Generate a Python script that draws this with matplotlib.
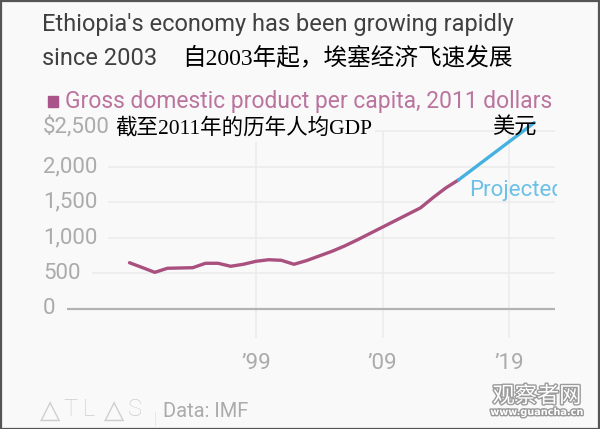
import matplotlib
matplotlib.use('Agg')
import matplotlib.pyplot as plt
from matplotlib.patches import Rectangle
from matplotlib import transforms
import matplotlib.patheffects as pe

# ---------------- data ----------------
years_hist = list(range(1989, 2016))
gdp_hist = [650, 583, 515, 572, 576, 580, 642, 642, 600, 628,
            670, 692, 684, 628, 680, 745, 810, 885, 970, 1060,
            1150, 1240, 1330, 1420, 1565, 1700, 1812]
years_proj = list(range(2015, 2022))
gdp_proj = [1812, 1946, 2080, 2214, 2348, 2482, 2617]

y_ticks = [0, 500, 1000, 1500, 2000, 2500]
y_tick_labels = ['0', '500', '1,000', '1,500', '2,000', '$2,500']
x_ticks = [1999, 2009, 2019]
x_tick_labels = ['\u201999', '\u201909', '\u201919']

title_en_1 = "Ethiopia's economy has been growing rapidly"
title_en_2 = "since 2003"
title_zh = "自2003年起，埃塞经济飞速发展"
legend_en = "Gross domestic product per capita, 2011 dollars"
legend_zh_1 = "截至2011年的历年人均GDP"
legend_zh_2 = "美元"
proj_label = "Projected"
source = "Data: IMF"
logo = ["\u25B3", "T", "L", "\u25B3", "S"]

# ---------------- style ----------------
W, H = 600, 429
BG = '#f9f9f9'
PURPLE = '#a9507f'
BLUE = '#45b1e1'
GRAY_TXT = '#ababab'
GRID = '#ebebeb'
FONT = 'Roboto'
ZH = ['Liberation Serif', 'Noto Sans CJK SC']

fig = plt.figure(figsize=(W / 100, H / 100), dpi=100, facecolor=BG)

def fx(px):
    return px / W

def fy(py):
    return 1 - py / H

# axes placement (pixels)
L, R, T, B = 30, 557, 118, 338
ax = fig.add_axes([fx(L), fy(B), (R - L) / W, (B - T) / H])
ax.set_facecolor(BG)
for s in ax.spines.values():
    s.set_visible(False)
ax.set_xticks([])
ax.set_yticks([])

px_per_year = 12.65
x0_px = 256  # 1999
ax.set_xlim(1999 - (x0_px - L) / px_per_year, 1999 + (R - x0_px) / px_per_year)
px_per_unit = 0.0712
y0_px = 309
ax.set_ylim(-(B - y0_px) / px_per_unit, (y0_px - T) / px_per_unit)

# data lines
ax.plot(years_hist, gdp_hist, color=PURPLE, lw=2.4, solid_capstyle='round',
        solid_joinstyle='round', zorder=5)
ax.plot(years_proj, gdp_proj, color=BLUE, lw=2.4, solid_capstyle='round',
        solid_joinstyle='round', zorder=5)

# vertical gridlines
ax.vlines(x_ticks, ax.get_ylim()[0], y_ticks[-1], color=GRID, lw=1.1, zorder=1)

# y tick labels
lab_tr = transforms.blended_transform_factory(fig.transFigure, ax.transData)
ylabels = []
for v, lab in zip(y_ticks, y_tick_labels):
    off = transforms.ScaledTranslation(0, 4 / 100 if v == 2500 else 0, fig.dpi_scale_trans)
    t = fig.text(fx(43), v, lab, transform=lab_tr + off, ha='left', va='center',
                 fontsize=16, family=FONT, color=GRAY_TXT)
    ylabels.append(t)

fig.canvas.draw()
rend = fig.canvas.get_renderer()
inv = ax.transData.inverted()
x_end = inv.transform((555, 0))[0]
for v, t in zip(y_ticks, ylabels):
    bb = t.get_window_extent(rend)
    xs = inv.transform((bb.x1 + 11, 0))[0]
    if v == 0:
        ax.hlines(v, xs, x_end, color='#b3b3b3', lw=1.6, zorder=3)
    else:
        ax.hlines(v, xs, x_end, color=GRID, lw=1.1, zorder=2)

# x tick labels
xl_tr = transforms.blended_transform_factory(ax.transData, fig.transFigure)
for x, lab in zip(x_ticks, x_tick_labels):
    fig.text(x, fy(369), lab, transform=xl_tr, ha='center', va='baseline',
             fontsize=16, family=FONT, color=GRAY_TXT)

# projected label (clipped by axes)
ax.text(2015.85, 1660, proj_label, ha='left', va='center', fontsize=16,
        family=FONT, color='#6cc0e6', clip_on=True, zorder=6)

# titles
fig.text(fx(42), fy(31), title_en_1, ha='left', va='baseline', fontsize=17,
         family=FONT, color='#404040')
fig.text(fx(42), fy(65), title_en_2, ha='left', va='baseline', fontsize=17,
         family=FONT, color='#404040')
fig.text(fx(182), fy(59), title_zh, ha='left', va='center', fontsize=17,
         family=ZH, color='black')

# legend
fig.patches.append(Rectangle((fx(48), fy(107)), 10 / W, 11 / H,
                             transform=fig.transFigure, color='#a9558a'))
fig.text(fx(65), fy(108), legend_en, ha='left', va='baseline', fontsize=16.5,
         family=FONT, color='#bb749e')
fig.text(fx(115), fy(128), legend_zh_1, ha='left', va='center', fontsize=15.5,
         family=ZH, color='black', zorder=10,
         bbox=dict(boxstyle='square,pad=0.15', fc=BG, ec='none'))
fig.text(fx(492), fy(128), legend_zh_2, ha='left', va='center', fontsize=16,
         family=ZH, color='black', zorder=10)

# footer logo
for cx, ch in zip([50.5, 70, 89, 114, 135], logo):
    if ch == '\u25B3':
        fig.text(fx(cx), fy(417.5), ch, ha='center', va='baseline', fontsize=19,
                 family=['DejaVu Sans'], color='#cdcdcd')
    else:
        fig.text(fx(cx), fy(416.5), ch, ha='center', va='baseline', fontsize=17,
                 family=FONT, fontweight='light', color='#cdcdcd')
fig.text(fx(155), fy(424), '|', ha='center', va='baseline', fontsize=12,
         family=FONT, fontweight='light', color='#d0d0d0')
fig.text(fx(163), fy(417), source, ha='left', va='baseline', fontsize=14.5,
         family=FONT, color='#ababab')

# watermark
wm_fx = [pe.withStroke(linewidth=2, foreground='#9a9a9a')]
fig.text(fx(537), fy(396), '观察者网', ha='center', va='center', fontsize=16,
         family=['Noto Sans CJK SC'], color='white', path_effects=wm_fx)
fig.text(fx(537), fy(412), 'www.guancha.cn', ha='center', va='center', fontsize=7,
         family=['DejaVu Sans'], fontweight='bold', color='white', path_effects=wm_fx)

# frame
fig.patches.append(Rectangle((0.5 / W, 0.5 / H), 1 - 2 / W, 1 - 1.5 / H,
                             transform=fig.transFigure, fill=False,
                             ec='#555555', lw=1.6))

fig.savefig('out.png', dpi=100, facecolor=BG)
